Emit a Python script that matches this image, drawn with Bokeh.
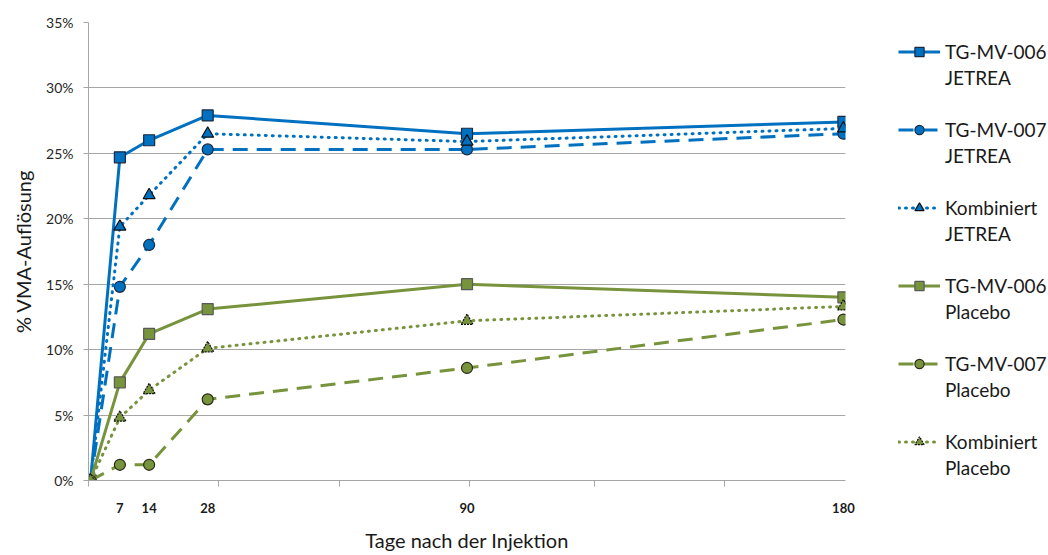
from bokeh.plotting import figure
from bokeh.models import (FixedTicker, Legend, LegendItem, PrintfTickFormatter)
from bokeh.embed import file_html
from bokeh.resources import INLINE

# ---- data ----
days = [0, 7, 14, 28, 90, 180]
tg006_jetrea = [0, 24.7, 26.0, 27.9, 26.5, 27.4]
tg007_jetrea = [0, 14.8, 18.0, 25.3, 25.3, 26.5]
komb_jetrea = [0, 19.4, 21.8, 26.5, 25.9, 26.9]
tg006_placebo = [0, 7.5, 11.2, 13.1, 15.0, 14.0]
tg007_placebo = [0, 1.2, 1.2, 6.2, 8.6, 12.3]
komb_placebo = [0, 4.8, 6.9, 10.1, 12.2, 13.3]

x_tick_labels = [7, 14, 28, 90, 180]
month_ticks = [-0.5, 30.5, 59.5, 90.5, 120.5, 151.5]
y_ticks = [0, 5, 10, 15, 20, 25, 30, 35]

series_names = ["TG-MV-006", "TG-MV-007", "Kombiniert",
                "TG-MV-006", "TG-MV-007", "Kombiniert"]
series_groups = ["JETREA", "JETREA", "JETREA", "Placebo", "Placebo", "Placebo"]

BLUE = "#0070C0"
GREEN = "#77933C"
FONT = "Lato"

p = figure(frame_width=757, frame_height=458, x_range=(-0.5, 180.5), y_range=(0, 35),
           output_backend="svg", toolbar_location=None,
           min_border_left=88, min_border_top=22, min_border_right=200, min_border_bottom=70)
p.outline_line_color = None
p.background_fill_color = "white"

p.xgrid.grid_line_color = None
p.ygrid.grid_line_color = "#a6a6a6"
p.ygrid.grid_line_width = 1
p.ygrid.ticker = FixedTicker(ticks=y_ticks)

# y axis
p.yaxis.ticker = FixedTicker(ticks=y_ticks)
p.yaxis.formatter = PrintfTickFormatter(format="%d%%")
p.yaxis.axis_line_color = "#a6a6a6"
p.yaxis.major_tick_line_color = "#a6a6a6"
p.yaxis.major_tick_out = 5
p.yaxis.major_tick_in = 0
p.yaxis.minor_tick_line_color = None
p.yaxis.major_label_standoff = 10
p.yaxis.major_label_text_font = FONT
p.yaxis.major_label_text_font_size = "14px"
p.yaxis.major_label_text_color = "#262626"
p.yaxis.axis_label = "% VMA-Auflösung"
p.yaxis.axis_label_text_font = FONT
p.yaxis.axis_label_text_font_size = "20px"
p.yaxis.axis_label_text_font_style = "normal"
p.yaxis.axis_label_text_color = "#1a1a1a"
p.yaxis.axis_label_standoff = 8

# x axis
p.xaxis.ticker = FixedTicker(ticks=x_tick_labels, minor_ticks=month_ticks)
p.xaxis.axis_line_color = "#a6a6a6"
p.xaxis.major_tick_line_color = None
p.xaxis.minor_tick_line_color = "#a6a6a6"
p.xaxis.minor_tick_out = 6
p.xaxis.minor_tick_in = 0
p.xaxis.major_label_standoff = 16
p.xaxis.major_label_text_font = FONT
p.xaxis.major_label_text_font_size = "13px"
p.xaxis.major_label_text_font_style = "bold"
p.xaxis.major_label_text_color = "#1a1a1a"
p.xaxis.axis_label = "Tage nach der Injektion"
p.xaxis.axis_label_text_font = FONT
p.xaxis.axis_label_text_font_size = "20px"
p.xaxis.axis_label_text_font_style = "normal"
p.xaxis.axis_label_text_color = "#1a1a1a"
p.xaxis.axis_label_standoff = 12

DOT = "1 6"
DASH = "15 9"
series = [
    (tg006_jetrea, BLUE, "solid", "square", "#1a2a40", "solid", 11),
    (tg007_jetrea, BLUE, DASH, "circle", "#1a2a40", "solid", 11),
    (komb_jetrea, BLUE, DOT, "triangle", "#111111", "solid", 12),
    (tg006_placebo, GREEN, "solid", "square", "#595959", "solid", 11),
    (tg007_placebo, GREEN, DASH, "circle", "#2a2a1a", "solid", 11),
    (komb_placebo, GREEN, DOT, "triangle", "#111111", "2 1", 12),
]

# invisible renderer used for the legend's text-only rows
blank = p.line([], [], line_alpha=0)

items = []
for i, ((vals, col, dash, marker, edge, mdash, size), name, grp) in enumerate(
        zip(series, series_names, series_groups)):
    cap = "round" if dash == DOT else "butt"
    l = p.line(days, vals, line_color=col, line_width=3, line_dash=dash, line_cap=cap)
    s = p.scatter(days, vals, marker=marker, size=size, fill_color=col,
                  line_color=edge, line_width=1.2, line_dash=mdash)
    items.append(LegendItem(label=name, renderers=[l, s]))
    items.append(LegendItem(label=grp, renderers=[blank]))
    if i < len(series) - 1:
        items.append(LegendItem(label=" ", renderers=[blank]))

legend = Legend(items=items, location=(53, 1))
legend.glyph_width = 42
legend.glyph_height = 23
legend.label_height = 23
legend.label_standoff = 5
legend.label_text_font = FONT
legend.label_text_font_size = "19px"
legend.label_text_color = "#1a1a1a"
legend.spacing = 3
legend.padding = 0
legend.margin = 0
legend.border_line_color = None
legend.background_fill_alpha = 0
legend.inactive_fill_alpha = 0
p.add_layout(legend, "right")

open("out.html", "w").write(file_html(p, INLINE))
